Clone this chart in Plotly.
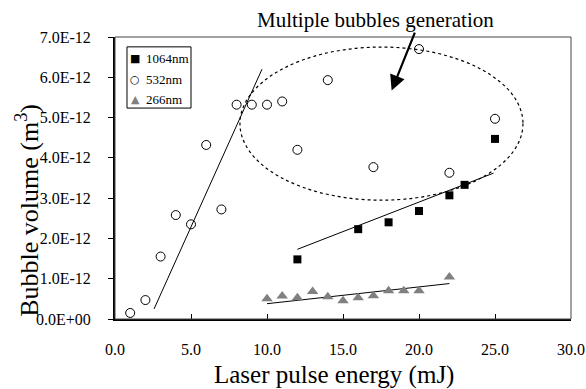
import plotly.graph_objects as go

# ---- data (volumes in m^3, energy in mJ) ----
x_1064 = [12, 16, 18, 20, 22, 23, 25]
y_1064 = [1.48e-12, 2.23e-12, 2.40e-12, 2.68e-12, 3.07e-12, 3.33e-12, 4.47e-12]

x_532 = [1, 2, 3, 4, 5, 6, 7, 8, 9, 10, 11, 12, 14, 17, 20, 22, 25]
y_532 = [0.15e-12, 0.47e-12, 1.55e-12, 2.58e-12, 2.35e-12, 4.32e-12, 2.72e-12,
         5.32e-12, 5.32e-12, 5.32e-12, 5.40e-12, 4.20e-12, 5.93e-12, 3.77e-12,
         6.70e-12, 3.63e-12, 4.97e-12]

x_266 = [10, 11, 12, 13, 14, 15, 16, 17, 18, 19, 20, 22]
y_266 = [0.50e-12, 0.57e-12, 0.53e-12, 0.68e-12, 0.55e-12, 0.45e-12, 0.53e-12,
         0.58e-12, 0.70e-12, 0.70e-12, 0.70e-12, 1.04e-12]

series_names = ["1064nm", "532nm", "266nm"]

# trend line endpoints
trend_532_x = [2.57, 9.67]
trend_532_y = [0.25e-12, 6.20e-12]
trend_1064_x = [12, 24.9]
trend_1064_y = [1.73e-12, 3.62e-12]
trend_266_x = [10, 22]
trend_266_y = [0.38e-12, 0.88e-12]

# ellipse region (data coords)
ell_x = [8.22, 26.84]
ell_y = [2.95e-12, 6.75e-12]

y_tickvals = [i * 1e-12 for i in range(8)]
y_ticktext = ["0.0E+00", "1.0E-12", "2.0E-12", "3.0E-12", "4.0E-12",
              "5.0E-12", "6.0E-12", "7.0E-12"]
x_tickvals = [0, 5, 10, 15, 20, 25, 30]
x_ticktext = ["0.0", "5.0", "10.0", "15.0", "20.0", "25.0", "30.0"]

FONT = "Liberation Serif"
GREY = "#808080"

fig = go.Figure()

# trend lines
for tx, ty in [(trend_532_x, trend_532_y), (trend_1064_x, trend_1064_y), (trend_266_x, trend_266_y)]:
    fig.add_trace(go.Scatter(x=tx, y=ty, mode="lines", line=dict(color="black", width=1),
                             showlegend=False, hoverinfo="skip"))

fig.add_trace(go.Scatter(x=x_1064, y=y_1064, mode="markers", name=series_names[0],
                         showlegend=False,
                         marker=dict(symbol="square", size=8, color="black")))
fig.add_trace(go.Scatter(x=x_532, y=y_532, mode="markers", name=series_names[1],
                         showlegend=False,
                         marker=dict(symbol="circle-open", size=9, color="black",
                                     line=dict(width=1, color="black"))))
fig.add_trace(go.Scatter(x=x_266, y=y_266, mode="markers", name=series_names[2],
                         showlegend=False,
                         marker=dict(symbol="triangle-up", size=10, color=GREY)))

fig.add_shape(type="circle", xref="x", yref="y",
              x0=ell_x[0], x1=ell_x[1], y0=ell_y[0], y1=ell_y[1],
              line=dict(color="black", width=1.2, dash="dot"))

# plot frame
fig.add_shape(type="rect", xref="paper", yref="paper", x0=0, x1=1, y0=0, y1=1,
              line=dict(color="#444", width=1), layer="above")

# legend box (custom, Excel-like)
fig.add_shape(type="rect", xref="paper", yref="paper", x0=0.0263, x1=0.1667,
              y0=0.748, y1=0.965, line=dict(color="black", width=1),
              fillcolor="white", layer="above")
leg_glyphs = ["<span style='color:black'>■</span>",
              "<span style='color:black'>○</span>",
              "<span style='color:%s'>▲</span>" % GREY]
leg_y = [0.922, 0.851, 0.780]
for g, name, yy in zip(leg_glyphs, series_names, leg_y):
    fig.add_annotation(x=0.0439, y=yy, xref="paper", yref="paper", text=g,
                       showarrow=False, xanchor="center", yanchor="middle",
                       font=dict(family="DejaVu Sans", size=11, color="black"))
    fig.add_annotation(x=0.0636, y=yy, xref="paper", yref="paper", text=name,
                       showarrow=False, xanchor="left", yanchor="middle",
                       font=dict(family=FONT, size=13, color="black"))

fig.add_annotation(x=18.2, y=5.67e-12, xref="x", yref="y",
                   ax=24, ay=-60, axref="pixel", ayref="pixel",
                   showarrow=True, arrowhead=2, arrowsize=1.4, arrowwidth=2.2,
                   arrowcolor="black", text=" ", font=dict(size=1))

fig.add_annotation(x=0.572, y=1.0, xref="paper", yref="paper", yshift=17,
                   text="Multiple bubbles generation", showarrow=False,
                   xanchor="center", yanchor="middle",
                   font=dict(family=FONT, size=21, color="black"))

# axis titles
fig.add_annotation(x=0.480, y=-0.199, xref="paper", yref="paper",
                   text="Laser pulse energy (mJ)", showarrow=False,
                   xanchor="center", yanchor="middle",
                   font=dict(family=FONT, size=25, color="black"))
fig.add_annotation(x=-0.191, y=0.387, xref="paper", yref="paper",
                   text="Bubble volume (m<sup>3</sup>)", showarrow=False, textangle=-90,
                   xanchor="center", yanchor="middle",
                   font=dict(family=FONT, size=26, color="black"))

fig.update_layout(
    width=586, height=389,
    margin=dict(l=115, r=15, t=37, b=70, autoexpand=False),
    paper_bgcolor="white", plot_bgcolor="white",
    font=dict(family=FONT, size=15, color="black"),
    showlegend=False,
    xaxis=dict(range=[0, 30], tickvals=x_tickvals, ticktext=x_ticktext,
               ticks="inside", ticklen=5, tickwidth=1, tickcolor="black",
               showline=True, linecolor="black", linewidth=2, showgrid=False,
               zeroline=False, ticklabelstandoff=15, automargin=False,
               tickfont=dict(family=FONT, size=16)),
    yaxis=dict(range=[0, 7e-12], tickvals=y_tickvals, ticktext=y_ticktext,
               ticks="outside", ticklen=5, tickwidth=1, tickcolor="black",
               showline=True, linecolor="black", linewidth=2, showgrid=False,
               zeroline=False, ticklabelstandoff=14, automargin=False,
               tickfont=dict(family=FONT, size=16)),
)

fig.write_html("out.html", config={"displayModeBar": False},
               post_script="document.body.style.margin='0';")
